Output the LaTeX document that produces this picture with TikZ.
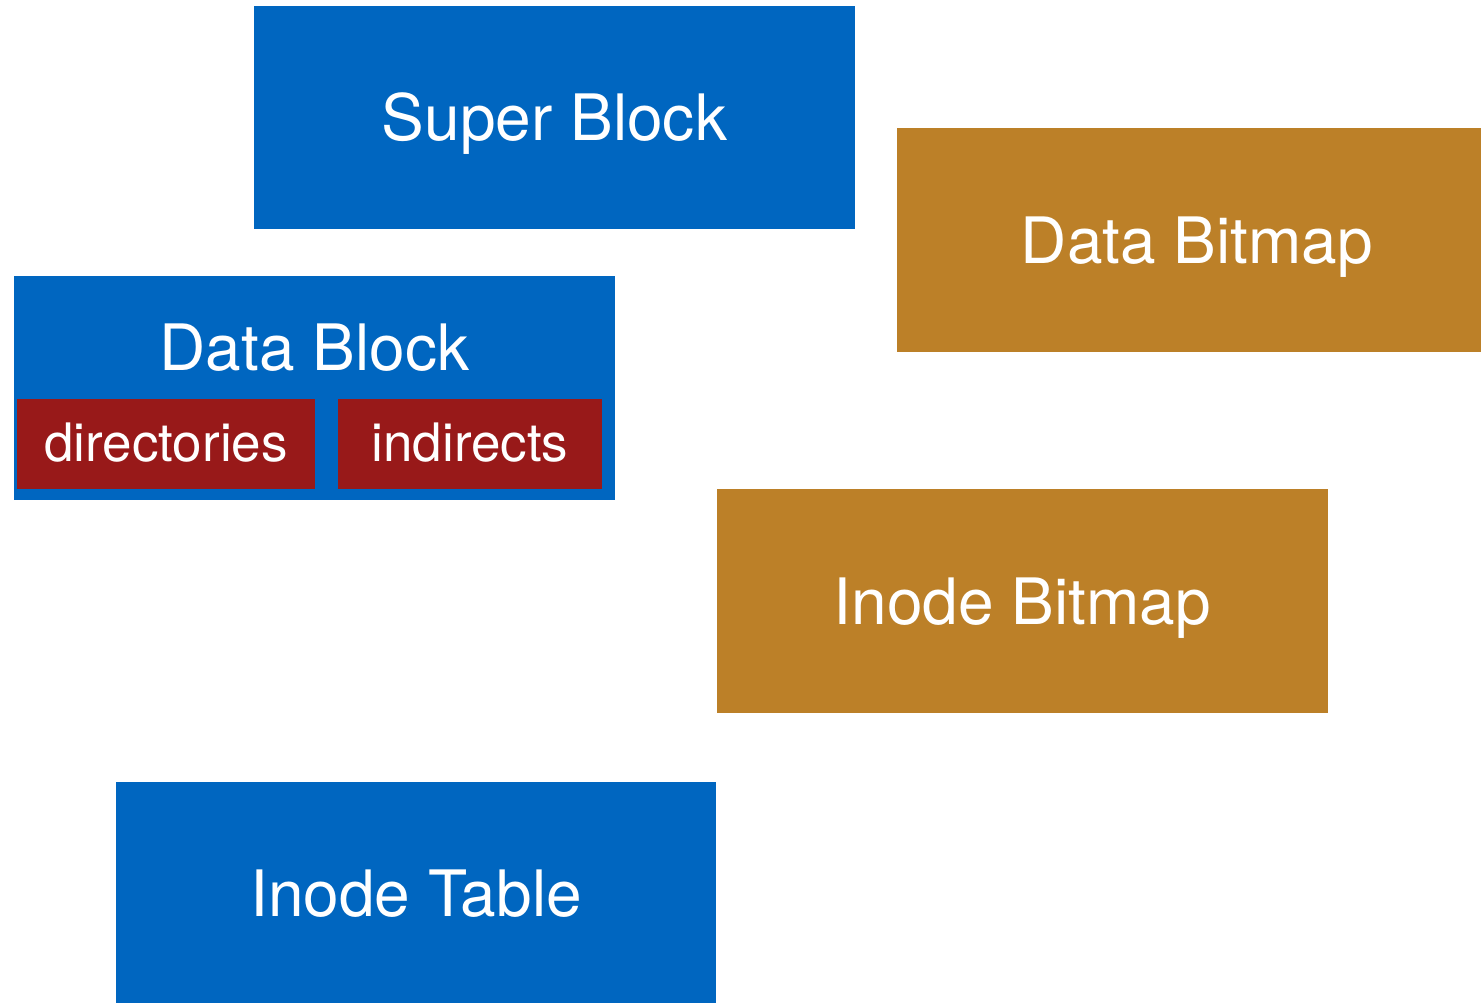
\documentclass[tikz,border=0pt]{standalone}
\usepackage{fontspec}
\setmainfont{TeX Gyre Heros}
\definecolor{blockblue}{RGB}{0,102,192}
\definecolor{mapgold}{RGB}{188,128,40}
\definecolor{subred}{RGB}{152,25,25}
\tikzset{
  region/.style={rectangle, inner sep=0pt, outer sep=0pt, text=white,
    font=\fontsize{64}{70}\selectfont, text height=46pt, text depth=0pt},
  blueregion/.style={region, fill=blockblue},
  goldregion/.style={region, fill=mapgold},
  subregion/.style={rectangle, inner sep=0pt, outer sep=0pt, fill=subred, text=white,
    font=\fontsize{53}{58}\selectfont, text height=34pt, text depth=0pt,
    minimum height=90pt},
}
\begin{document}
\begin{tikzpicture}[x=1pt,y=-1pt]
  \useasboundingbox (0,0) rectangle (1481,1002);
  \clip (0,0) rectangle (1481,1002);

  \node[blueregion, minimum width=601pt, minimum height=223pt] (super) at (554.5,117.5) {Super Block};
  \node[goldregion, minimum width=600pt, minimum height=224pt] (dbitmap) at (1197,240) {Data Bitmap};

  \node[blueregion, minimum width=601pt, minimum height=224pt] (dblock) at (314.5,388) {};
  \node[text=white, font=\fontsize{64}{70}\selectfont, inner sep=0pt, anchor=base] (dblocktitle) at (314.5,370) {Data Block};
  \node[subregion, minimum width=298pt] (dirs) at (166,444) {directories};
  \node[subregion, minimum width=264pt] (indir) at (470,444) {indirects};

  \node[goldregion, minimum width=611pt, minimum height=224pt] (ibitmap) at (1022.5,601) {Inode Bitmap};
  \node[blueregion, minimum width=600pt, minimum height=223pt] (itable) at (416,893.5) {Inode Table};
\end{tikzpicture}
\end{document}
